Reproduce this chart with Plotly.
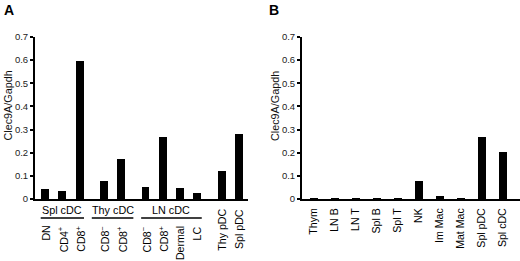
import plotly.graph_objects as go

# ---------------- data ----------------
# Panel A: grouped cell types
groupA_names = ["Spl cDC", "Thy cDC", "LN cDC", ""]
groupA_labels = [
    ["DN", "CD4<sup>+</sup>", "CD8<sup>+</sup>"],
    ["CD8<sup>−</sup>", "CD8<sup>+</sup>"],
    ["CD8<sup>−</sup>", "CD8<sup>+</sup>", "Dermal", "LC"],
    ["Thy pDC", "Spl pDC"],
]
groupA_values = [
    [0.045, 0.036, 0.596],
    [0.079, 0.173],
    [0.053, 0.267, 0.049, 0.025],
    [0.122, 0.280],
]

# Panel B
labelsB = ["Thym", "LN B", "LN T", "Spl B", "Spl T", "NK", "Im Mac", "Mat Mac", "Spl pDC", "Spl cDC"]
valuesB = [0.003, 0.002, 0.002, 0.002, 0.003, 0.079, 0.012, 0.004, 0.266, 0.204]

y_ticks = [0, 0.1, 0.2, 0.3, 0.4, 0.5, 0.6, 0.7]
y_ticktext = ["0", "0.1", "0.2", "0.3", "0.4", "0.5", "0.6", "0.7"]
y_title = "Clec9A/Gapdh"

# ---------------- layout helpers ----------------
FONT = "Liberation Sans, Arial, sans-serif"
W, H = 520, 261
GAP = 0.4
XFS = 10.6

# compute positions for panel A
posA, labA, valA, inGroup, group_spans = [], [], [], [], []
x = 0.0
for gname, labs, vals in zip(groupA_names, groupA_labels, groupA_values):
    start = x
    for l, v in zip(labs, vals):
        posA.append(x)
        labA.append(l)
        valA.append(v)
        inGroup.append(bool(gname))
        x += 1
    group_spans.append((start, x - 1))
    x += GAP

posB = list(range(len(labelsB)))

fig = go.Figure()
fig.add_trace(go.Bar(x=posA, y=valA, width=0.46, marker=dict(color="black", line=dict(width=0)),
                     xaxis="x", yaxis="y", showlegend=False, hoverinfo="skip"))
fig.add_trace(go.Bar(x=posB, y=valuesB, width=0.38, marker=dict(color="black", line=dict(width=0)),
                     xaxis="x2", yaxis="y2", showlegend=False, hoverinfo="skip"))

ydom = [1 - 199 / H, 1 - 37 / H]
yaxis_common = dict(range=[0, 0.7], tickvals=y_ticks, ticktext=y_ticktext, ticks="outside",
                    ticklen=3, tickwidth=1.5, tickcolor="black", showline=True, linecolor="black",
                    linewidth=2, showgrid=False, zeroline=False, domain=ydom, automargin=False,
                    tickfont=dict(family=FONT, size=9.5, color="#222"))

fig.update_layout(
    template="none",
    width=W, height=H, margin=dict(l=0, r=0, t=0, b=0),
    paper_bgcolor="white", plot_bgcolor="white", bargap=0,
    xaxis=dict(domain=[35 / W, 248 / W], range=[-0.58, posA[-1] + 0.52], showticklabels=False,
               ticks="", showline=True, linecolor="black", linewidth=2, automargin=False,
               showgrid=False, zeroline=False, anchor="y"),
    yaxis=dict(anchor="x", **yaxis_common),
    xaxis2=dict(domain=[302 / W, 1.0], range=[-0.57, 9.81], tickvals=posB, ticktext=labelsB,
                tickangle=-90, ticks="", showline=True, linecolor="black", linewidth=2,
                showgrid=False, zeroline=False, ticklabelstandoff=3, automargin=False,
                tickfont=dict(family=FONT, size=XFS, color="black"), anchor="y2"),
    yaxis2=dict(anchor="x2", **yaxis_common),
)

# tick labels of panel A (grouped ones sit below the group bars)
for p, lab, g in zip(posA, labA, inGroup):
    top = 224 if g else 207
    fig.add_annotation(x=p, y=1 - top / H, xref="x", yref="paper", text=lab, showarrow=False,
                       textangle=-90, xanchor="center", yanchor="top",
                       font=dict(family=FONT, size=XFS, color="black"))

# group labels and underlines in panel A
text_half = 1.2
for name, (s, e) in zip(groupA_names, group_spans):
    if not name:
        continue
    c = (s + e) / 2
    half = max((e - s) / 2 + 0.25, text_half)
    fig.add_shape(type="line", xref="x", yref="paper", x0=c - half, x1=c + half,
                  y0=1 - 218 / H, y1=1 - 218 / H, line=dict(color="black", width=1.5))
    fig.add_annotation(x=c, y=1 - 210 / H, xref="x", yref="paper", text=name, showarrow=False,
                       font=dict(family=FONT, size=10.8, color="black"), yanchor="middle")

# y titles
for xp in (7.5, 275):
    fig.add_annotation(x=xp / W, y=1 - 106 / H, xref="paper", yref="paper", text=y_title,
                       showarrow=False, textangle=-90, xanchor="center", yanchor="middle",
                       font=dict(family=FONT, size=10.8, color="#111"))

# panel letters
fig.add_annotation(x=2 / W, y=1 - 10 / H, xref="paper", yref="paper", text="<b>A</b>", showarrow=False,
                   xanchor="left", yanchor="middle", font=dict(family=FONT, size=14, color="black"))
fig.add_annotation(x=267 / W, y=1 - 10 / H, xref="paper", yref="paper", text="<b>B</b>", showarrow=False,
                   xanchor="left", yanchor="middle", font=dict(family=FONT, size=14, color="black"))

fig.write_html("out.html", config={"displayModeBar": False},
               post_script="document.body.style.margin='0';document.body.style.overflow='hidden';")
